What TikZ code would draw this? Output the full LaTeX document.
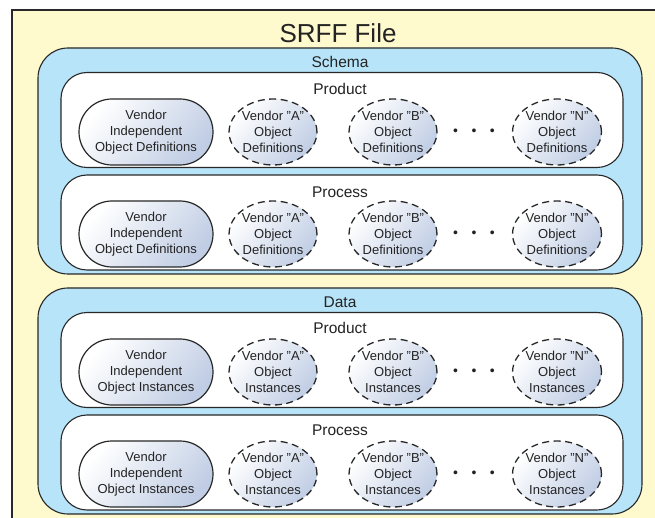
\documentclass[tikz,border=0pt]{standalone}
\usepackage{fontspec}
\setmainfont{Liberation Sans}
\usepackage{tikz}
\usetikzlibrary{shapes.geometric, shapes.misc, positioning}

\definecolor{filebg}{RGB}{255,249,206}
\definecolor{sectbg}{RGB}{183,228,248}
\definecolor{objshade}{RGB}{192,205,228}
\definecolor{linegray}{RGB}{40,40,40}
\definecolor{textgray}{RGB}{35,35,35}
\newcommand{\objfont}{\fontsize{13}{16}\selectfont}

\begin{document}
\begin{tikzpicture}[x=1pt, y=-1pt,
    sectbox/.style={rectangle, rounded corners=30pt, draw=linegray, line width=1.1pt, fill=sectbg, minimum width=604pt, minimum height=226pt},
    groupbox/.style={rectangle, rounded corners=26pt, draw=linegray, line width=1.1pt, fill=white, minimum width=562pt, minimum height=95pt},
    objshading/.style={top color=white, middle color=white!65!objshade, bottom color=objshade, shading angle=50},
    indepobj/.style={rounded rectangle, draw=linegray, line width=1.2pt, objshading, minimum width=134pt, minimum height=66pt, inner sep=0pt, align=center, font=\objfont, text=textgray},
    vendobj/.style={ellipse, draw=linegray, line width=1.3pt, dash pattern=on 7pt off 4.5pt, objshading, minimum width=87pt, minimum height=66pt, inner sep=0pt, align=center, font=\objfont, text=textgray},
    sectlabel/.style={font=\fontsize{15.5}{18}\selectfont, text=textgray, inner sep=0pt},
    dotrow/.style={font=\fontsize{14}{16}\selectfont, text=textgray, inner sep=0pt},
]
\useasboundingbox (0,0) rectangle (655,518);
\clip (0,0) rectangle (655,518);

% File frame and title
\draw[draw=linegray, fill=filebg, line width=1.1pt] (12,10) rectangle (720,580);
\node[font=\fontsize{26}{30}\selectfont, text=textgray, inner sep=0pt] (title) at (338,33) {SRFF File};

% Schema section
\node[sectbox] (schema) at (340,161) {};
\node[sectlabel] (schemalbl) at (340,62) {Schema};

\node[groupbox] (sprod) at (342,120) {};
\node[sectlabel] (sprodlbl) at (340,89) {Product};
\node[indepobj] (sprodind) at (146,132) {Vendor\\Independent\\Object Definitions};
\node[vendobj] (sproda) at (273,132) {Vendor "A"\\Object\\Definitions};
\node[vendobj] (sprodb) at (393,132) {Vendor "B"\\Object\\Definitions};
\node[dotrow] (sproddots) at (474,132) {\textbullet\hspace{13.5pt}\textbullet\hspace{13.5pt}\textbullet};
\node[vendobj] (sprodn) at (557,132) {Vendor "N"\\Object\\Definitions};

\node[groupbox] (sproc) at (342,222.5) {};
\node[sectlabel] (sproclbl) at (340,192) {Process};
\node[indepobj] (sprocind) at (146,234) {Vendor\\Independent\\Object Definitions};
\node[vendobj] (sproca) at (273,234) {Vendor "A"\\Object\\Definitions};
\node[vendobj] (sprocb) at (393,234) {Vendor "B"\\Object\\Definitions};
\node[dotrow] (sprocdots) at (474,234) {\textbullet\hspace{13.5pt}\textbullet\hspace{13.5pt}\textbullet};
\node[vendobj] (sprocn) at (557,234) {Vendor "N"\\Object\\Definitions};

% Data section
\node[sectbox] (data) at (340,401) {};
\node[sectlabel] (datalbl) at (340,302) {Data};

\node[groupbox] (dprod) at (342,360) {};
\node[sectlabel] (dprodlbl) at (340,328) {Product};
\node[indepobj] (dprodind) at (146,372) {Vendor\\Independent\\Object Instances};
\node[vendobj] (dproda) at (273,372) {Vendor "A"\\Object\\Instances};
\node[vendobj] (dprodb) at (393,372) {Vendor "B"\\Object\\Instances};
\node[dotrow] (dproddots) at (474,372) {\textbullet\hspace{13.5pt}\textbullet\hspace{13.5pt}\textbullet};
\node[vendobj] (dprodn) at (557,372) {Vendor "N"\\Object\\Instances};

\node[groupbox] (dproc) at (342,462.5) {};
\node[sectlabel] (dproclbl) at (340,430) {Process};
\node[indepobj] (dprocind) at (146,474) {Vendor\\Independent\\Object Instances};
\node[vendobj] (dproca) at (273,474) {Vendor "A"\\Object\\Instances};
\node[vendobj] (dprocb) at (393,474) {Vendor "B"\\Object\\Instances};
\node[dotrow] (dprocdots) at (474,474) {\textbullet\hspace{13.5pt}\textbullet\hspace{13.5pt}\textbullet};
\node[vendobj] (dprocn) at (557,474) {Vendor "N"\\Object\\Instances};

\end{tikzpicture}
\end{document}
